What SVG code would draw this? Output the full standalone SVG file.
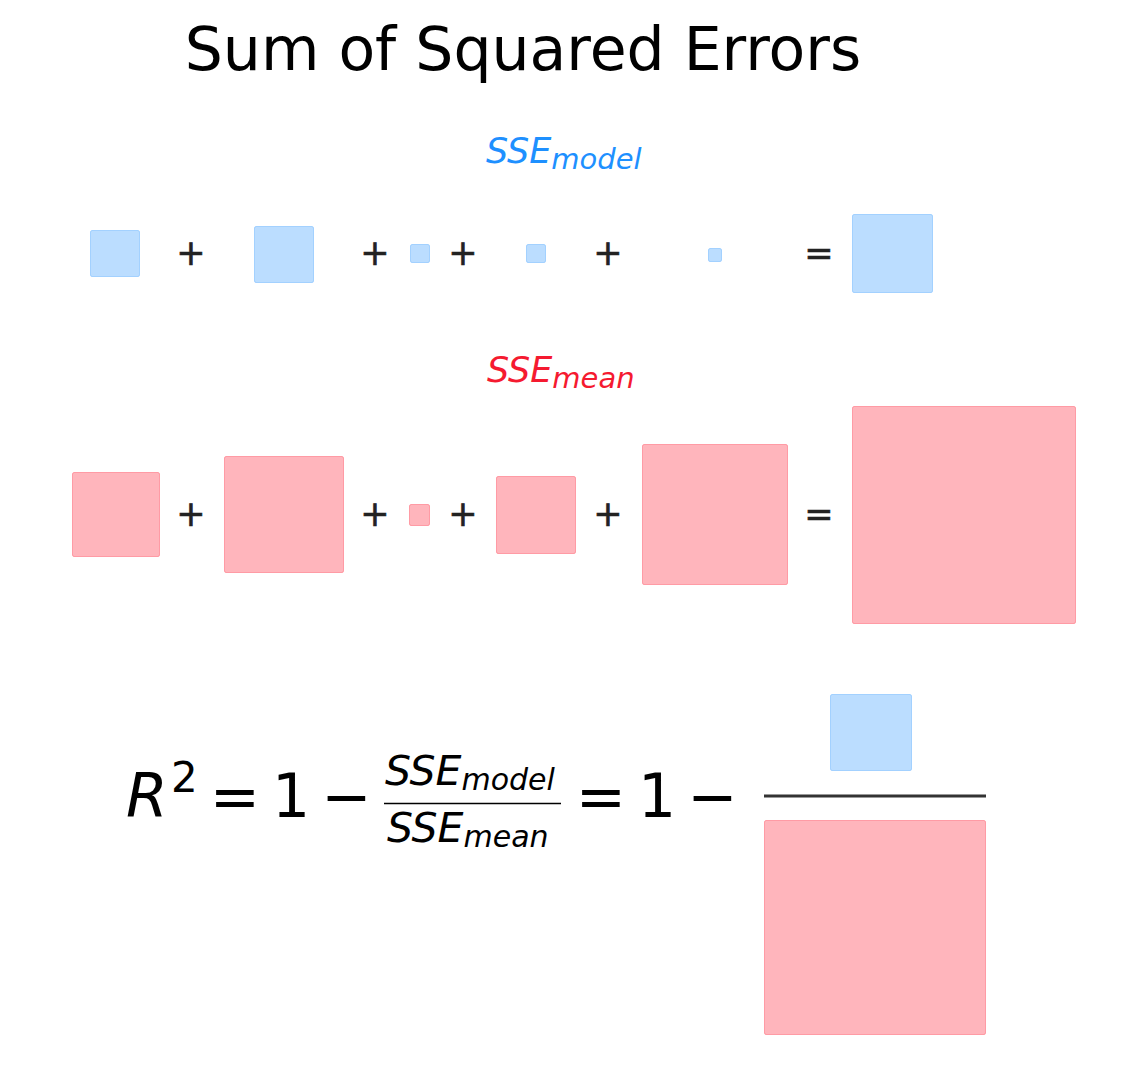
<svg xmlns="http://www.w3.org/2000/svg" width="1146" height="1080" viewBox="0 0 1146 1080">
<style>
text{font-family:"DejaVu Sans","Liberation Sans",sans-serif}
.it{font-style:italic}
.b{fill:#1e90ff;fill-opacity:.3;stroke:#1e90ff;stroke-opacity:.3;stroke-width:1}
.r{fill:#ff0a20;fill-opacity:.3;stroke:#ff0a20;stroke-opacity:.3;stroke-width:1}
.op{font-size:35px;fill:#222;text-anchor:middle;stroke:#222;stroke-width:.6}
.eq{font-size:60px;fill:#000;text-anchor:middle}
</style>
<rect width="1146" height="1080" fill="#fff"/>
<g id="title"><text x="523" y="70" font-size="60" text-anchor="middle" fill="#000">Sum of Squared Errors</text></g>
<g id="label-model"><text x="486" y="163" class="it" fill="#1e90ff" font-size="35">SSE<tspan dy="6" font-size="29">model</tspan></text></g>
<g id="label-mean"><text x="487" y="382" class="it" fill="#f51a30" font-size="35">SSE<tspan dy="6" font-size="29">mean</tspan></text></g>
<g id="row-model">
<rect class="b" x="90.5" y="230.5" width="49" height="46" rx="1.5"/>
<rect class="b" x="254.5" y="226.5" width="59" height="56" rx="1.5"/>
<rect class="b" x="410.5" y="244.5" width="19" height="18" rx="1.5"/>
<rect class="b" x="526.5" y="244.5" width="19" height="18" rx="1.5"/>
<rect class="b" x="708.5" y="248.5" width="13" height="13" rx="1.5"/>
<rect class="b" x="852.5" y="214.5" width="80" height="78" rx="1.5"/>
<text class="op" x="191" y="265">+</text>
<text class="op" x="375" y="265">+</text>
<text class="op" x="463" y="265">+</text>
<text class="op" x="608" y="265">+</text>
<text class="op" x="819" y="265">=</text>
</g>
<g id="row-mean">
<rect class="r" x="72.5" y="472.5" width="87" height="84" rx="1.5"/>
<rect class="r" x="224.5" y="456.5" width="119" height="116" rx="1.5"/>
<rect class="r" x="409.5" y="504.5" width="20" height="21" rx="1.5"/>
<rect class="r" x="496.5" y="476.5" width="79" height="77" rx="1.5"/>
<rect class="r" x="642.5" y="444.5" width="145" height="140" rx="1.5"/>
<rect class="r" x="852.5" y="406.5" width="223" height="217" rx="1.5"/>
<text class="op" x="191" y="526">+</text>
<text class="op" x="375" y="526">+</text>
<text class="op" x="463" y="526">+</text>
<text class="op" x="608" y="526">+</text>
<text class="op" x="819" y="526">=</text>
</g>
<g id="equation">
<text x="126" y="817" class="it" font-size="60" fill="#000">R</text>
<text x="171" y="792" font-size="42" fill="#000">2</text>
<text class="eq" x="235" y="817">=</text>
<text class="eq" x="291" y="817">1</text>
<text class="eq" x="346.5" y="817">−</text>
<text x="385" y="785" class="it" font-size="41" fill="#000">SSE<tspan dy="5" font-size="30">model</tspan></text>
<line x1="384" y1="803.5" x2="561" y2="803.5" stroke="#000" stroke-width="1.5"/>
<text x="387" y="842" class="it" font-size="41" fill="#000">SSE<tspan dy="5" font-size="30">mean</tspan></text>
<text class="eq" x="601" y="817">=</text>
<text class="eq" x="657" y="817">1</text>
<text class="eq" x="712.5" y="817">−</text>
</g>
<g id="ratio">
<rect class="b" x="830.5" y="694.5" width="81" height="76" rx="1.5"/>
<line x1="764" y1="796" x2="986" y2="796" stroke="#333" stroke-width="3"/>
<rect class="r" x="764.5" y="820.5" width="221" height="214" rx="1.5"/>
</g>
</svg>
